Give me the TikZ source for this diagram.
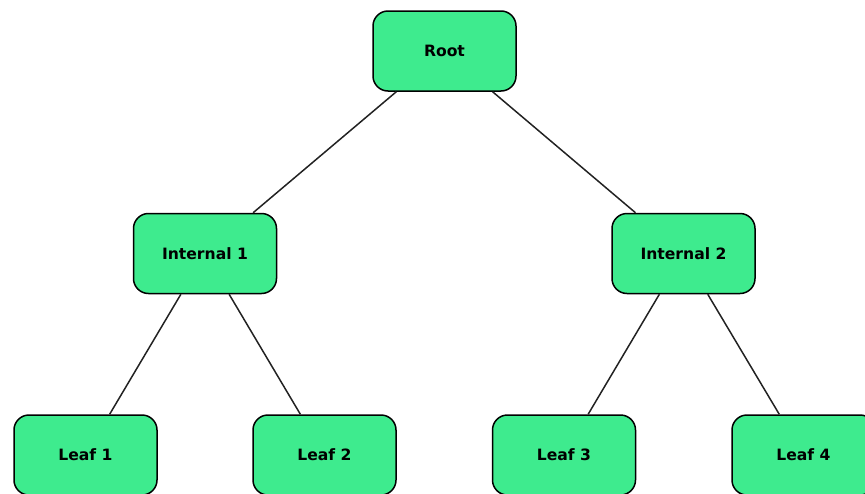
\documentclass[tikz,border=0pt]{standalone}
\usepackage{fontspec}
\setmainfont{DejaVu Sans}
\definecolor{leafgreen}{RGB}{62,235,142}
\definecolor{edgegray}{RGB}{34,34,34}

\begin{document}
\begin{tikzpicture}[x=1pt, y=-1pt,
  treebox/.style={draw=black,fill=leafgreen,rectangle,rounded corners=15pt,
    line width=1.5pt,minimum width=143pt,minimum height=80pt,
    font=\fontsize{15.6}{18}\selectfont\bfseries},
  treeedge/.style={draw=edgegray,line width=1.5pt}]
\useasboundingbox (0,0) rectangle (865,493);
 % nodi
  \node (root) at (444.5, 51) [treebox] {Root};
  \node (int1) at (205, 253.5) [treebox] {Internal 1};
  \node (int2) at (683.5, 253.5) [treebox] {Internal 2};
  \node (leaf1) at (85.5, 455) [treebox] {Leaf 1};
  \node (leaf2) at (324.5, 455) [treebox] {Leaf 2};
  \node (leaf3) at (564, 455) [treebox] {Leaf 3};
  \node (leaf4) at (803.5, 455) [treebox] {Leaf 4};
 % archi
  \path[treeedge] (root) edge (int1);
  \path[treeedge] (root) edge (int2);
  \path[treeedge] (int1) edge (leaf1);
  \path[treeedge] (int1) edge (leaf2);
  \path[treeedge] (int2) edge (leaf3);
  \path[treeedge] (int2) edge (leaf4);
\end{tikzpicture}
\end{document}
